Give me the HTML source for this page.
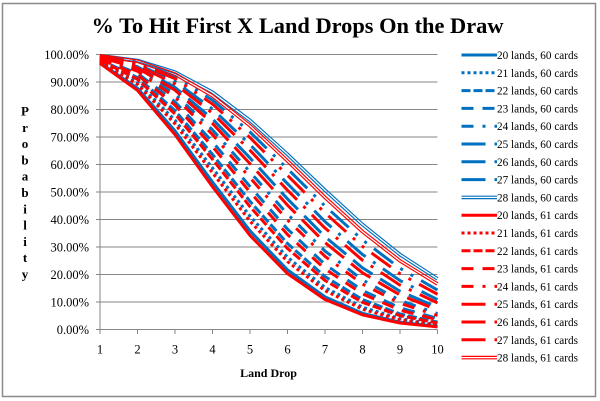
<!DOCTYPE html>
<html>
<head>
<meta charset="utf-8">
<style>
  html,body{margin:0;padding:0;background:#fff;}
  svg{display:block;}
  text{font-family:"Liberation Serif","Times New Roman",serif;fill:#000;}
</style>
</head>
<body>
<svg id="chart" width="600" height="401" viewBox="0 0 600 401" xmlns="http://www.w3.org/2000/svg">
  <rect x="0" y="0" width="600" height="401" fill="#fff"/>
  <rect x="2.5" y="3.5" width="593" height="393" fill="none" stroke="#8a8a8a" stroke-width="1.5"/>

  <text x="297.5" y="33" text-anchor="middle" font-size="22.4" font-weight="bold">% To Hit First X Land Drops On the Draw</text>

  <g id="grid" stroke="#868686" stroke-width="1" fill="none"></g>

  <g font-size="12.5" text-anchor="end">
    <text x="89" y="58.8">100.00%</text>
    <text x="89" y="86.3">90.00%</text>
    <text x="89" y="113.8">80.00%</text>
    <text x="89" y="141.3">70.00%</text>
    <text x="89" y="168.8">60.00%</text>
    <text x="89" y="196.3">50.00%</text>
    <text x="89" y="223.8">40.00%</text>
    <text x="89" y="251.3">30.00%</text>
    <text x="89" y="278.8">20.00%</text>
    <text x="89" y="306.3">10.00%</text>
    <text x="89" y="333.8">0.00%</text>
  </g>

  <g font-size="12.5" text-anchor="middle">
    <text x="100" y="353.5">1</text>
    <text x="137.5" y="353.5">2</text>
    <text x="175" y="353.5">3</text>
    <text x="212.5" y="353.5">4</text>
    <text x="250" y="353.5">5</text>
    <text x="287.5" y="353.5">6</text>
    <text x="325" y="353.5">7</text>
    <text x="362.5" y="353.5">8</text>
    <text x="400" y="353.5">9</text>
    <text x="437.5" y="353.5">10</text>
  </g>

  <text x="268.5" y="377" text-anchor="middle" font-size="12" font-weight="bold">Land Drop</text>

  <g font-size="13" font-weight="bold" text-anchor="middle">
    <text x="25" y="115.5">P</text>
    <text x="25" y="131.8">r</text>
    <text x="25" y="148.1">o</text>
    <text x="25" y="164.4">b</text>
    <text x="25" y="180.7">a</text>
    <text x="25" y="197">b</text>
    <text x="25" y="213.3">i</text>
    <text x="25" y="229.6">l</text>
    <text x="25" y="245.9">i</text>
    <text x="25" y="262.2">t</text>
    <text x="25" y="278.5">y</text>
  </g>

  <defs id="defs"></defs>
  <g id="series"></g>
  <g id="legendLines"></g>

  <g font-size="11.2">
    <text x="497" y="59" textLength="81" lengthAdjust="spacingAndGlyphs">20 lands, 60 cards</text>
    <text x="497" y="76.8" textLength="81" lengthAdjust="spacingAndGlyphs">21 lands, 60 cards</text>
    <text x="497" y="94.6" textLength="81" lengthAdjust="spacingAndGlyphs">22 lands, 60 cards</text>
    <text x="497" y="112.4" textLength="81" lengthAdjust="spacingAndGlyphs">23 lands, 60 cards</text>
    <text x="497" y="130.2" textLength="81" lengthAdjust="spacingAndGlyphs">24 lands, 60 cards</text>
    <text x="497" y="148" textLength="81" lengthAdjust="spacingAndGlyphs">25 lands, 60 cards</text>
    <text x="497" y="165.8" textLength="81" lengthAdjust="spacingAndGlyphs">26 lands, 60 cards</text>
    <text x="497" y="183.6" textLength="81" lengthAdjust="spacingAndGlyphs">27 lands, 60 cards</text>
    <text x="497" y="201.4" textLength="81" lengthAdjust="spacingAndGlyphs">28 lands, 60 cards</text>
    <text x="497" y="219.2" textLength="81" lengthAdjust="spacingAndGlyphs">20 lands, 61 cards</text>
    <text x="497" y="237" textLength="81" lengthAdjust="spacingAndGlyphs">21 lands, 61 cards</text>
    <text x="497" y="254.8" textLength="81" lengthAdjust="spacingAndGlyphs">22 lands, 61 cards</text>
    <text x="497" y="272.6" textLength="81" lengthAdjust="spacingAndGlyphs">23 lands, 61 cards</text>
    <text x="497" y="290.4" textLength="81" lengthAdjust="spacingAndGlyphs">24 lands, 61 cards</text>
    <text x="497" y="308.2" textLength="81" lengthAdjust="spacingAndGlyphs">25 lands, 61 cards</text>
    <text x="497" y="326" textLength="81" lengthAdjust="spacingAndGlyphs">26 lands, 61 cards</text>
    <text x="497" y="343.8" textLength="81" lengthAdjust="spacingAndGlyphs">27 lands, 61 cards</text>
    <text x="497" y="361.6" textLength="81" lengthAdjust="spacingAndGlyphs">28 lands, 61 cards</text>
  </g>
</svg>
<script>
(function(){
  var NS="http://www.w3.org/2000/svg";
  function el(tag, attrs, parent){
    var e=document.createElementNS(NS,tag);
    for(var k in attrs){ e.setAttribute(k, attrs[k]); }
    if(parent) parent.appendChild(e);
    return e;
  }
  var Y0=329.5, SC=275, X0=100, DX=37.5;
  var grid=document.getElementById('grid');
  // gridlines
  for(var i=1;i<=10;i++){
    var y=Y0-i*27.5;
    el('line',{x1:96,y1:y,x2:437.5,y2:y},grid);
  }
  // axes
  el('line',{x1:100,y1:54.5,x2:100,y2:Y0},grid);
  el('line',{x1:96,y1:Y0,x2:437.5,y2:Y0},grid);
  for(var j=0;j<10;j++){
    var x=X0+j*DX;
    el('line',{x1:x,y1:Y0,x2:x,y2:Y0+4.5},grid);
  }

  function C(n,k){ if(k<0||k>n) return 0; var r=1; for(var i=1;i<=k;i++){ r=r*(n-k+i)/i; } return r; }
  function P(N,L,X){ var n=7+X, s=0; for(var k=X;k<=Math.min(n,L);k++){ s+=C(L,k)*C(N-L,n-k); } return s/C(N,n); }

  var decks=[60,61], colors=['#0070C0','#FF0000'];
  var dashes={20:null,21:'3,3',22:'9,3',23:'12,9',24:'12,9,3,9',25:'24,9',26:'24,9,3,9',27:'24,9,3,9,3,9'};
  var series=document.getElementById('series');
  var defs=document.getElementById('defs');
  var leg=document.getElementById('legendLines');
  var row=0;
  for(var d=0; d<2; d++){
    for(var L=20; L<=28; L++){
      var pts=[];
      for(var X=1; X<=10; X++){
        var p=P(decks[d],L,X);
        pts.push((X0+(X-1)*DX).toFixed(2)+','+(Y0-p*SC).toFixed(2));
      }
      var dstr='M'+pts.join(' L');
      var ly=55+17.8*row;
      var ld='M461.5,'+ly+' L497,'+ly;
      if(L===28){
        var mid='m28_'+d;
        var m=el('mask',{id:mid,maskUnits:'userSpaceOnUse',x:0,y:0,width:600,height:401},defs);
        el('rect',{x:0,y:0,width:600,height:401,fill:'#fff'},m);
        el('path',{d:dstr,fill:'none',stroke:'#000','stroke-width':1.3,'stroke-linejoin':'round'},m);
        el('path',{d:dstr,fill:'none',stroke:colors[d],'stroke-width':3.6,'stroke-linejoin':'round',mask:'url(#'+mid+')'},series);
        el('path',{d:ld,fill:'none',stroke:colors[d],'stroke-width':3.6},leg);
        el('path',{d:ld,fill:'none',stroke:'#fff','stroke-width':1.3},leg);
      } else {
        var a={d:dstr,fill:'none',stroke:colors[d],'stroke-width':3,'stroke-linejoin':'round','stroke-linecap':'butt'};
        if(dashes[L]) a['stroke-dasharray']=dashes[L];
        el('path',a,series);
        var b={d:ld,fill:'none',stroke:colors[d],'stroke-width':3,'stroke-linecap':'butt'};
        if(dashes[L]) b['stroke-dasharray']=dashes[L];
        el('path',b,leg);
      }
      row++;
    }
  }
})();
</script>
</body>
</html>
